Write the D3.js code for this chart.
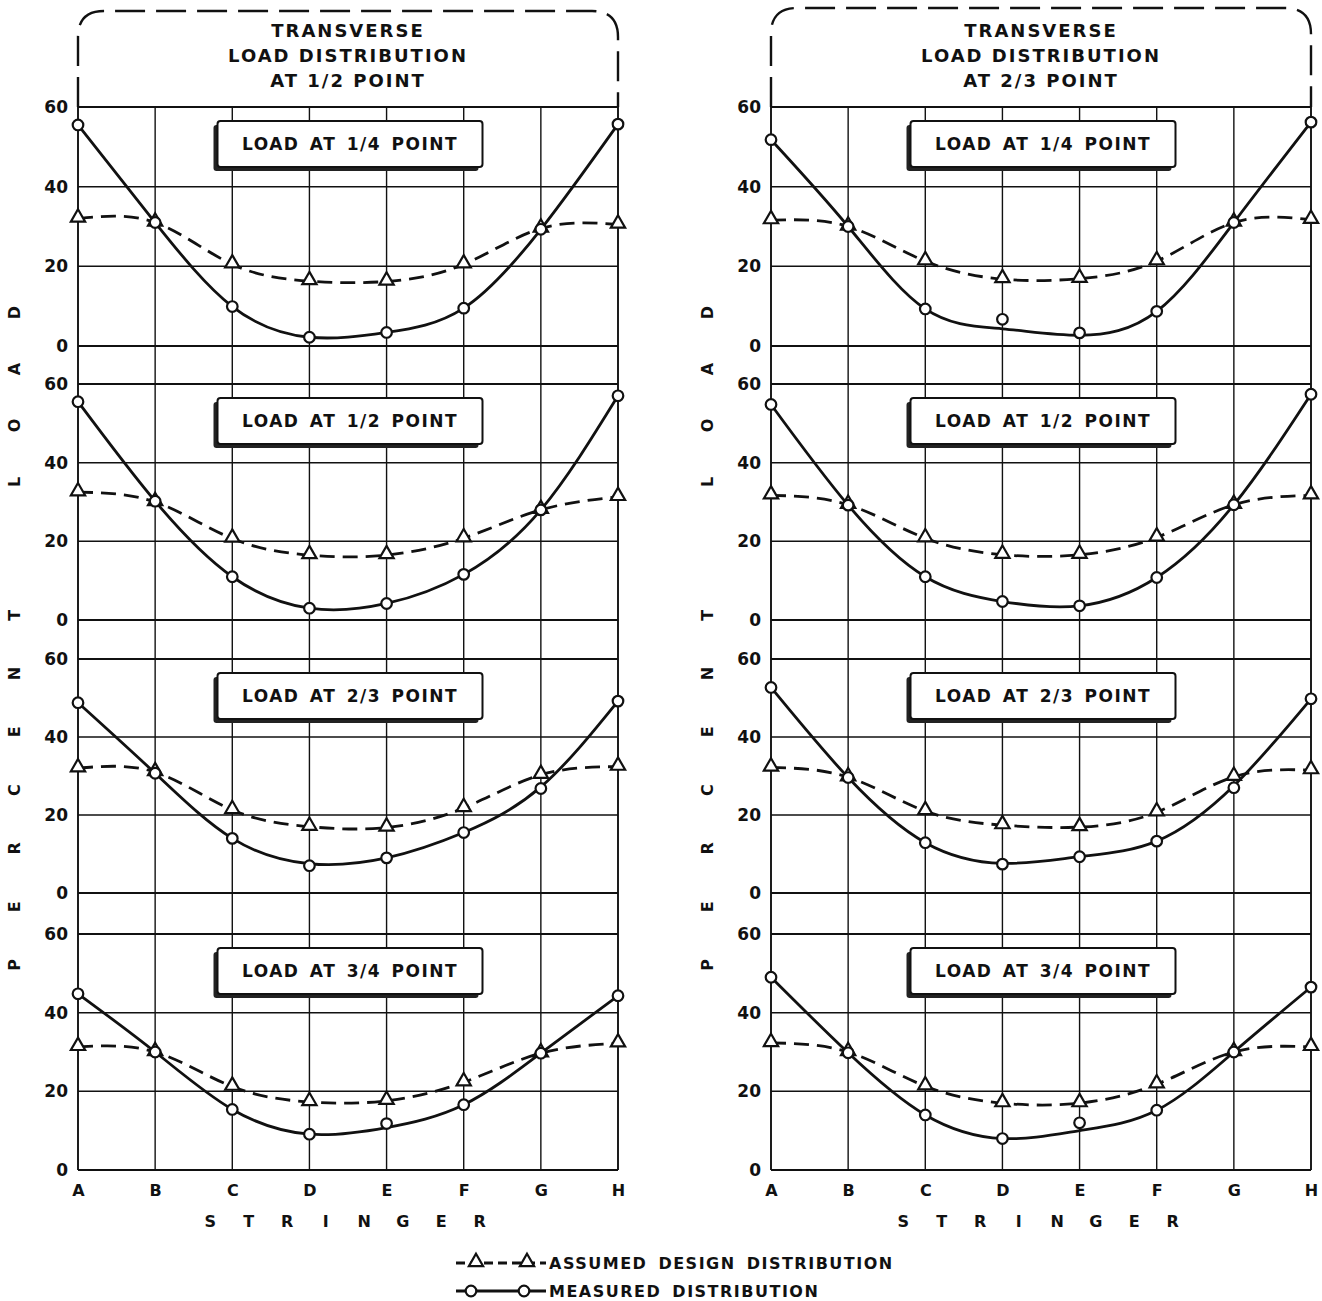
<!DOCTYPE html>
<html>
<head>
<meta charset="utf-8">
<script src="https://cdn.jsdelivr.net/npm/d3@7"></script>
<style>
  body { margin: 0; background: #fff; }
  text { font-family: "DejaVu Sans", sans-serif; font-weight: bold; fill: #111; }
</style>
</head>
<body>
<div id="chart"></div>
<script>
var stringers = ["A", "B", "C", "D", "E", "F", "G", "H"];
var yTicks = [0, 20, 40, 60];
var loadLabels = ["LOAD AT 1/4 POINT", "LOAD AT 1/2 POINT", "LOAD AT 2/3 POINT", "LOAD AT 3/4 POINT"];
var panelTitles = [
  ["TRANSVERSE", "LOAD DISTRIBUTION", "AT 1/2 POINT"],
  ["TRANSVERSE", "LOAD DISTRIBUTION", "AT 2/3 POINT"]
];
var axisTitle = ["PERCENT", "LOAD"];
var xTitle = "STRINGER";
var legendLabels = ["ASSUMED DESIGN DISTRIBUTION", "MEASURED DISTRIBUTION"];

// transverse distribution at 1/2 point (left half)
var leftDesign = [
  [32, 31, 20.5, 16.3, 16.2, 20.5, 29.5, 30.5],
  [32.5, 30, 20.7, 16.5, 16.5, 20.8, 28, 31.3],
  [32, 31, 21.3, 17, 16.8, 21.8, 30.3, 32.4],
  [31.3, 30, 21.2, 17.3, 17.6, 22.3, 29.7, 32.2]
];
var leftMeasured = [
  [55.5, 31, 9.9, 2.2, 3.4, 9.5, 29.3, 55.7],
  [55.5, 30.2, 11, 3, 4.2, 11.6, 28, 57],
  [48.8, 30.7, 14, 7, 9, 15.5, 26.8, 49.2],
  [44.8, 30, 15.4, 9.1, 11.8, 16.6, 29.7, 44.3]
];
// the drawn (faired) curve through the measured points
var leftFit = [
  [55.5, 31, 9.9, 2.2, 3.4, 9.5, 29.3, 55.7],
  [55.5, 30.2, 11, 3, 4.2, 11.6, 28, 57],
  [48.8, 30.7, 14, 7.5, 9, 15.5, 27.2, 49.2],
  [44.8, 30, 15.4, 9.1, 10.8, 16.6, 29.7, 44.3]
];

// transverse distribution at 2/3 point (right half)
var rightDesign = [
  [31.6, 30, 21.3, 16.8, 16.9, 21.3, 31, 31.7],
  [31.7, 29.3, 20.8, 16.6, 16.6, 21, 29.3, 31.7],
  [32.2, 29.7, 21, 17.4, 16.9, 20.7, 29.8, 31.5],
  [32.3, 30, 21.3, 17, 17, 21.8, 30, 31.3]
];
var rightMeasured = [
  [51.8, 30, 9.3, 6.7, 3.3, 8.7, 31, 56.2],
  [54.8, 29.2, 11, 4.7, 3.6, 10.8, 29.3, 57.4],
  [52.7, 29.6, 12.9, 7.4, 9.3, 13.3, 27, 49.8],
  [49, 29.8, 14, 8, 12, 15.2, 30, 46.5]
];
var rightFit = [
  [51.8, 30, 9.3, 4.3, 2.7, 8.7, 31, 56.2],
  [54.8, 29.2, 11, 4.7, 3.6, 10.8, 29.3, 57.4],
  [52.7, 29.6, 12.9, 7.6, 9.3, 13.3, 27.5, 49.8],
  [49, 29.8, 14, 8, 10, 15.2, 30, 46.5]
];

var W = 1322, H = 1301;

// layout
var panelLeft = [78, 771];
var plotW = 540;
var plotTops = [107, 384, 659, 934];
var plotBottoms = [346, 620, 893, 1170];
var frameTop = [11, 8];

var svg = d3.select("#chart").append("svg")
    .attr("width", W)
    .attr("height", H);

var panels = [
  { title: panelTitles[0], design: leftDesign, measured: leftMeasured, fit: leftFit },
  { title: panelTitles[1], design: rightDesign, measured: rightMeasured, fit: rightFit }
];

var triangle = d3.symbol().type(d3.symbolTriangle).size(88);

function drawTriangles(g, pts) {
  g.selectAll(".tri")
    .data(pts)
    .enter().append("path")
      .attr("class", "tri")
      .attr("transform", d => "translate(" + d[0] + "," + (d[1] - 1) + ")")
      .attr("d", triangle)
      .attr("fill", "#fff")
      .attr("stroke", "#111")
      .attr("stroke-width", 2.2);
}

function drawCircles(g, pts) {
  g.selectAll(".dot")
    .data(pts)
    .enter().append("circle")
      .attr("class", "dot")
      .attr("cx", d => d[0])
      .attr("cy", d => d[1])
      .attr("r", 5.3)
      .attr("fill", "#fff")
      .attr("stroke", "#111")
      .attr("stroke-width", 2.2);
}

panels.forEach(function(p, pi) {
  var x0 = panelLeft[pi];
  var x = d3.scalePoint()
      .domain(stringers)
      .range([x0, x0 + plotW]);
  var cx = x0 + plotW / 2;

  var g = svg.append("g").attr("class", "panel");

  // dashed rounded frame above the top plot
  var fy = frameTop[pi], r = 26, x1 = x0 + plotW;
  var fp = d3.path();
  fp.moveTo(x0, plotTops[0]);
  fp.lineTo(x0, fy + r);
  fp.quadraticCurveTo(x0, fy, x0 + r, fy);
  fp.lineTo(x1 - r, fy);
  fp.quadraticCurveTo(x1, fy, x1, fy + r);
  fp.lineTo(x1, plotTops[0]);
  g.append("path")
    .attr("d", fp.toString())
    .attr("fill", "none")
    .attr("stroke", "#111")
    .attr("stroke-width", 2.4)
    .attr("stroke-dasharray", "30,11");

  // title
  g.selectAll(".title")
    .data(p.title)
    .enter().append("text")
      .attr("class", "title")
      .attr("x", cx)
      .attr("y", (d, i) => 30 + i * 25)
      .attr("text-anchor", "middle")
      .attr("dominant-baseline", "central")
      .style("font-size", "18px")
      .style("letter-spacing", "2px")
      .text(d => d);

  // vertical stringer lines run through all four plots
  g.selectAll(".vgrid")
    .data(stringers)
    .enter().append("line")
      .attr("class", "vgrid")
      .attr("x1", d => x(d))
      .attr("x2", d => x(d))
      .attr("y1", plotTops[0])
      .attr("y2", plotBottoms[3])
      .attr("stroke", "#111")
      .attr("stroke-width", (d, i) => (i === 0 || i === 7) ? 1.9 : 1.4);

  plotTops.forEach(function(top, k) {
    var y = d3.scaleLinear()
        .domain([0, 60])
        .range([plotBottoms[k], top]);

    var pg = g.append("g").attr("class", "plot");

    pg.selectAll(".hgrid")
      .data(yTicks)
      .enter().append("line")
        .attr("class", "hgrid")
        .attr("x1", x0)
        .attr("x2", x0 + plotW)
        .attr("y1", d => y(d))
        .attr("y2", d => y(d))
        .attr("stroke", "#111")
        .attr("stroke-width", d => (d === 0 || d === 60) ? 2 : 1.5);

    var yAxis = d3.axisLeft(y)
        .tickValues(yTicks)
        .tickSize(0)
        .tickPadding(10);
    var ya = pg.append("g")
        .attr("transform", "translate(" + x0 + ",0)")
        .call(yAxis);
    ya.select(".domain").remove();
    ya.selectAll("text")
        .attr("font-family", null)
        .style("font-size", "17px")
        .style("fill", "#111");

    // label box with its drafting shadow
    var bw = 265, bh = 46, bx = cx + 2 - bw / 2, by = top + 14;
    pg.append("rect")
      .attr("x", bx - 4)
      .attr("y", by + 4)
      .attr("width", bw)
      .attr("height", bh)
      .attr("rx", 3)
      .attr("fill", "#222");
    pg.append("rect")
      .attr("x", bx)
      .attr("y", by)
      .attr("width", bw)
      .attr("height", bh)
      .attr("rx", 3)
      .attr("fill", "#fff")
      .attr("stroke", "#111")
      .attr("stroke-width", 2);
    pg.append("text")
      .attr("x", bx + bw / 2)
      .attr("y", by + bh / 2)
      .attr("text-anchor", "middle")
      .attr("dominant-baseline", "central")
      .style("font-size", "17px")
      .style("letter-spacing", "1.5px")
      .style("word-spacing", "3px")
      .text(loadLabels[k]);

    var line = d3.line()
        .x((d, i) => x(stringers[i]))
        .y(d => y(d))
        .curve(d3.curveNatural);

    pg.append("path")
      .attr("d", line(p.design[k]))
      .attr("fill", "none")
      .attr("stroke", "#111")
      .attr("stroke-width", 2.8)
      .attr("stroke-dasharray", "15,8");

    pg.append("path")
      .attr("d", line(p.fit[k]))
      .attr("fill", "none")
      .attr("stroke", "#111")
      .attr("stroke-width", 2.8);

    drawTriangles(pg, p.design[k].map((v, i) => [x(stringers[i]), y(v)]));
    drawCircles(pg, p.measured[k].map((v, i) => [x(stringers[i]), y(v)]));
  });

  // stringer labels
  var xAxis = d3.axisBottom(x)
      .tickSize(0)
      .tickPadding(15);
  var xa = g.append("g")
      .attr("transform", "translate(0," + plotBottoms[3] + ")")
      .call(xAxis);
  xa.select(".domain").remove();
  xa.selectAll("text")
      .attr("font-family", null)
      .style("font-size", "16px")
      .style("fill", "#111");

  g.selectAll(".xtitle")
    .data(xTitle.split(""))
    .enter().append("text")
      .attr("class", "xtitle")
      .attr("x", (d, i) => cx - 3 + (i - 3.5) * 38.5)
      .attr("y", 1221)
      .attr("text-anchor", "middle")
      .attr("dominant-baseline", "central")
      .style("font-size", "16px")
      .text(d => d);

  // vertical axis title, one letter at a time reading upward
  var letters = [];
  axisTitle[0].split("").forEach((c, i) => letters.push({ c: c, y: 965 - i * 58.3 }));
  axisTitle[1].split("").forEach((c, i) => letters.push({ c: c, y: 482 - i * 56.5 }));
  var lx = x0 - 64;
  g.selectAll(".ytitle")
    .data(letters)
    .enter().append("text")
      .attr("class", "ytitle")
      .attr("transform", d => "translate(" + lx + "," + d.y + ") rotate(-90)")
      .attr("text-anchor", "middle")
      .attr("dominant-baseline", "central")
      .style("font-size", "16px")
      .text(d => d.c);
});

// legend
var legend = svg.append("g").attr("class", "legend");
var ly = [1263, 1291];

legend.append("line")
  .attr("x1", 456).attr("x2", 546)
  .attr("y1", ly[0]).attr("y2", ly[0])
  .attr("stroke", "#111")
  .attr("stroke-width", 2.8)
  .attr("stroke-dasharray", "9,5");
drawTriangles(legend.append("g"), [[476, ly[0]], [527, ly[0]]]);

legend.append("line")
  .attr("x1", 456).attr("x2", 546)
  .attr("y1", ly[1]).attr("y2", ly[1])
  .attr("stroke", "#111")
  .attr("stroke-width", 2.8);
drawCircles(legend.append("g"), [[471, ly[1]], [524, ly[1]]]);

legend.selectAll(".ltext")
  .data(legendLabels)
  .enter().append("text")
    .attr("class", "ltext")
    .attr("x", 549)
    .attr("y", (d, i) => ly[i])
    .attr("dominant-baseline", "central")
    .style("font-size", "16px")
    .style("letter-spacing", "1.5px")
    .style("word-spacing", "4px")
    .text(d => d);
</script>
</body>
</html>
